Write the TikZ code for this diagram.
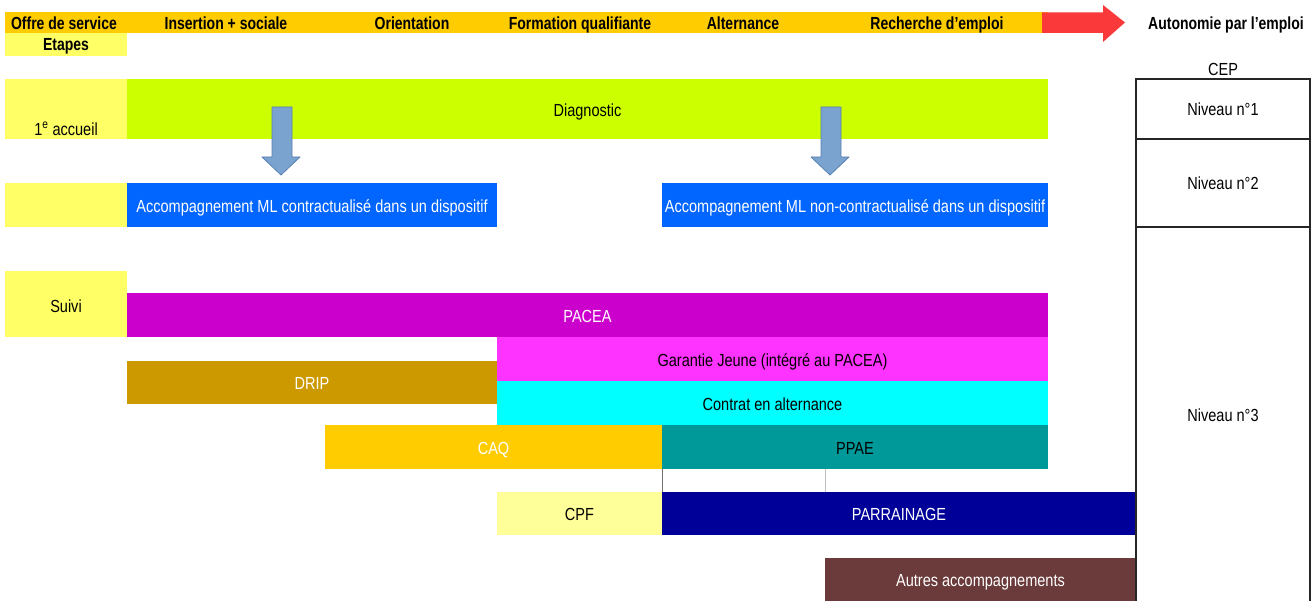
\documentclass[tikz,border=0pt]{standalone}
\usepackage{fontspec}
\setmainfont{Liberation Sans}[FakeStretch=0.83, BoldFeatures={FakeStretch=0.80}]
\definecolor{hdr}{HTML}{FFCC00}
\definecolor{yel}{HTML}{FFFF66}
\definecolor{lime}{HTML}{CCFF00}
\definecolor{accblue}{HTML}{0066FF}
\definecolor{pacea}{HTML}{CC00CC}
\definecolor{gj}{HTML}{FF33FF}
\definecolor{drip}{HTML}{CC9900}
\definecolor{cyanc}{HTML}{00FFFF}
\definecolor{caq}{HTML}{FFCC00}
\definecolor{ppae}{HTML}{009999}
\definecolor{cpf}{HTML}{FFFF99}
\definecolor{parr}{HTML}{000099}
\definecolor{autres}{RGB}{107,58,58}
\definecolor{arrfill}{RGB}{122,163,208}
\definecolor{arrline}{RGB}{88,128,178}
\definecolor{redarr}{RGB}{250,58,58}
\begin{document}
\begin{tikzpicture}[x=1pt,y=-1pt,
  every node/.style={font=\fontsize{17.5}{19}\selectfont, inner sep=0pt, outer sep=0pt},
  bar/.style 2 args={rectangle, draw=none, minimum width=#1pt, minimum height=#2pt, text height=14.5pt, text depth=0pt},
  lbl/.style={text height=12.5pt, text depth=0pt},
  hd/.style={font=\fontsize{17.5}{19}\selectfont\bfseries, text height=12.5pt, text depth=0pt},
  wt/.style={text=white},
  cepbox/.style 2 args={rectangle, draw=black!85, line width=1.3pt, minimum width=#1pt, minimum height=#2pt, text height=12.5pt, text depth=0pt},
  blockarrow/.style={fill=arrfill, draw=arrline, line width=0.8pt, line join=round},
  thinline/.style={line width=0.8pt}
]
\useasboundingbox (0,0) rectangle (1311,601);
\fill[white] (0,0) rectangle (1311,601);

% header
\node[bar={1043}{21}, fill=hdr] (header) at (526.5,22.5) {};
\node[hd] (h1) at (64,23) {Offre de service};
\node[hd] (h2) at (226,23) {Insertion + sociale};
\node[hd] (h3) at (412,23) {Orientation};
\node[hd] (h4) at (580,23) {Formation qualifiante};
\node[hd] (h5) at (743,23) {Alternance};
\node[hd] (h6) at (937,23) {Recherche d'emploi};
\fill[redarr] (1042,12.5) -- (1103,12.5) -- (1103,5) -- (1125,22.5) -- (1103,42) -- (1103,33) -- (1042,33) -- cycle;
\node[hd] (auto) at (1226,23) {Autonomie par l'emploi};

% etapes column
\node[bar={122}{23}, fill=yel, hd] (etapes) at (66,44.5) {Etapes};
\node[bar={122}{60}, fill=yel] (accueilbox) at (66,109) {};
\node[lbl] (accueil) at (66,129) {1\textsuperscript{e} accueil};
\node[bar={122}{44}, fill=yel] (yel2) at (66,205) {};
\node[bar={122}{66}, fill=yel] (suivi) at (66,304) {};
\node[lbl] (suivit) at (66,306) {Suivi};

% main bars
\node[bar={921}{60}, fill=lime] (diag) at (587.5,109) {Diagnostic};
\node[bar={370}{44}, fill=accblue, wt] (acc1) at (312,205) {Accompagnement ML contractualisé dans un dispositif};
\node[bar={386}{44}, fill=accblue, wt] (acc2) at (855,205) {Accompagnement ML non-contractualisé dans un dispositif};
\node[bar={921}{44}, fill=pacea, wt] (pacea) at (587.5,315) {PACEA};
\node[bar={551}{44}, fill=gj] (gj) at (772.5,359) {Garantie Jeune (intégré au PACEA)};
\node[bar={370}{43}, fill=drip, wt] (drip) at (312,382.5) {DRIP};
\node[bar={551}{44}, fill=cyanc] (contrat) at (772.5,403) {Contrat en alternance};
\node[bar={337}{44}, fill=caq, wt] (caq) at (493.5,447) {CAQ};
\node[bar={386}{44}, fill=ppae] (ppae) at (855,447) {PPAE};
\node[bar={165}{43}, fill=cpf] (cpf) at (579.5,513.5) {CPF};
\node[bar={474}{43}, fill=parr, wt] (parr) at (899,513.5) {PARRAINAGE};
\node[bar={311}{43}, fill=autres, wt] (autres) at (980.5,579.5) {Autres accompagnements};

\draw[thinline, black!55] (ppae.south west) -- (parr.north west);
\draw[thinline, black!25] (autres.west |- ppae.south) -- (autres.west |- parr.north);

% blue block arrows
\draw[blockarrow] (272,107) -- (292,107) -- (292,157) -- (300,157) -- (281,175) -- (262,157) -- (272,157) -- cycle;
\draw[blockarrow] (821,107) -- (841,107) -- (841,157) -- (849,157) -- (830,175) -- (811,157) -- (821,157) -- cycle;

% CEP
\node[lbl] (cep) at (1223,69) {CEP};
\node[cepbox={174}{60}] (n1) at (1223,109) {Niveau n°1};
\node[cepbox={174}{88}] (n2) at (1223,183) {Niveau n°2};
\node[cepbox={174}{380}] (n3) at (1223,417) {};
\node[lbl] (n3t) at (1223,415) {Niveau n°3};
\end{tikzpicture}
\end{document}
